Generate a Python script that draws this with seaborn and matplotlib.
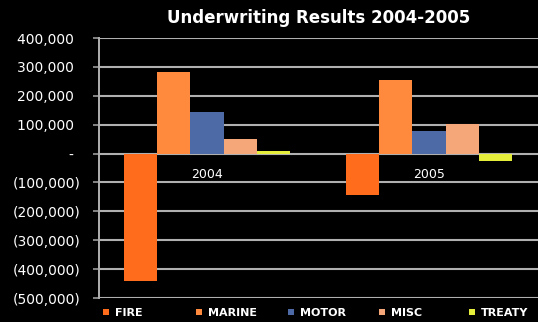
import matplotlib
matplotlib.use("Agg")
import matplotlib.pyplot as plt
import seaborn as sns
import pandas as pd
from matplotlib.ticker import FuncFormatter

# Underwriting result per class of business, by year
years = ["2004", "2005"]
classes = ["FIRE", "MARINE", "MOTOR", "MISC", "TREATY"]
fire = [-440000, -145000]
marine = [283000, 255000]
motor = [145000, 78000]
misc = [52000, 102000]
treaty = [10000, -25000]

colors = ["#FF6D1C", "#FF8A3E", "#4D6AA6", "#F6A77A", "#E6EE3C"]

rows = []
for cls, vals in zip(classes, [fire, marine, motor, misc, treaty]):
    for yr, v in zip(years, vals):
        rows.append({"Year": yr, "Class": cls, "Result": v})
df = pd.DataFrame(rows)

sns.set_theme(style="dark")
plt.rcParams["font.family"] = ["DejaVu Sans"]

fig = plt.figure(figsize=(5.38, 3.22), dpi=100, facecolor="black")
ax = fig.add_axes([99 / 538, 1 - 298 / 322, 439 / 538, 260 / 322])
ax.set_facecolor("black")

sns.barplot(data=df, x="Year", y="Result", hue="Class", hue_order=classes,
            order=years, palette=colors, width=0.75, saturation=1,
            errorbar=None, ax=ax, zorder=3, edgecolor="none")

ax.set_ylim(-500000, 400000)
ax.set_xlim(-0.4865, 1.491)
ax.set_yticks(range(-500000, 400001, 100000))


def fmt(v, _):
    # accounting style: negatives in brackets, zero as a dash
    if v == 0:
        return "-\u2002"
    if v < 0:
        return f"({abs(int(v)):,})"
    return f"{int(v):,}\u2002"


ax.yaxis.set_major_formatter(FuncFormatter(fmt))
ax.tick_params(axis="y", colors="#9a9a9a", labelcolor="white", labelsize=10,
               length=4, width=1.2, left=True, pad=9)
ax.tick_params(axis="x", bottom=False, labelbottom=False)
ax.set_xlabel("")
ax.set_ylabel("")

for s in ["top", "right", "bottom"]:
    ax.spines[s].set_visible(False)
ax.spines["left"].set_color("#b0b0b0")
ax.spines["left"].set_linewidth(1.4)

# horizontal gridlines at every major tick, behind the bars
ax.hlines(ax.get_yticks(), -0.4865, 1.491, colors="#b0b0b0",
          linewidths=1.5, zorder=2)

# category labels sit just under the zero line
for i, yr in enumerate(years):
    ax.annotate(yr, xy=(i, 0), xytext=(0, -15), textcoords="offset points",
                ha="center", va="center", color="white", fontsize=9)

fig.text(319 / 538, 1 - 18 / 322, "Underwriting Results 2004-2005",
         ha="center", va="center", color="white", fontsize=12,
         fontweight="bold")

handles, labels = ax.get_legend_handles_labels()
if ax.legend_ is not None:
    ax.legend_.remove()
# one entry per slot, evenly spaced along the bottom
slots = [103, 196, 288, 379, 469]
for h, lab, xs in zip(handles, labels, slots):
    leg = fig.legend([h], [lab], loc="center left",
                     bbox_to_anchor=(xs / 538, 1 - 313 / 322),
                     frameon=False, handlelength=0.55, handleheight=0.55,
                     handletextpad=0.5, borderaxespad=0, borderpad=0,
                     prop={"size": 8, "weight": "bold"})
    for t in leg.get_texts():
        t.set_color("white")

fig.savefig("out.png", dpi=100, facecolor="black")
